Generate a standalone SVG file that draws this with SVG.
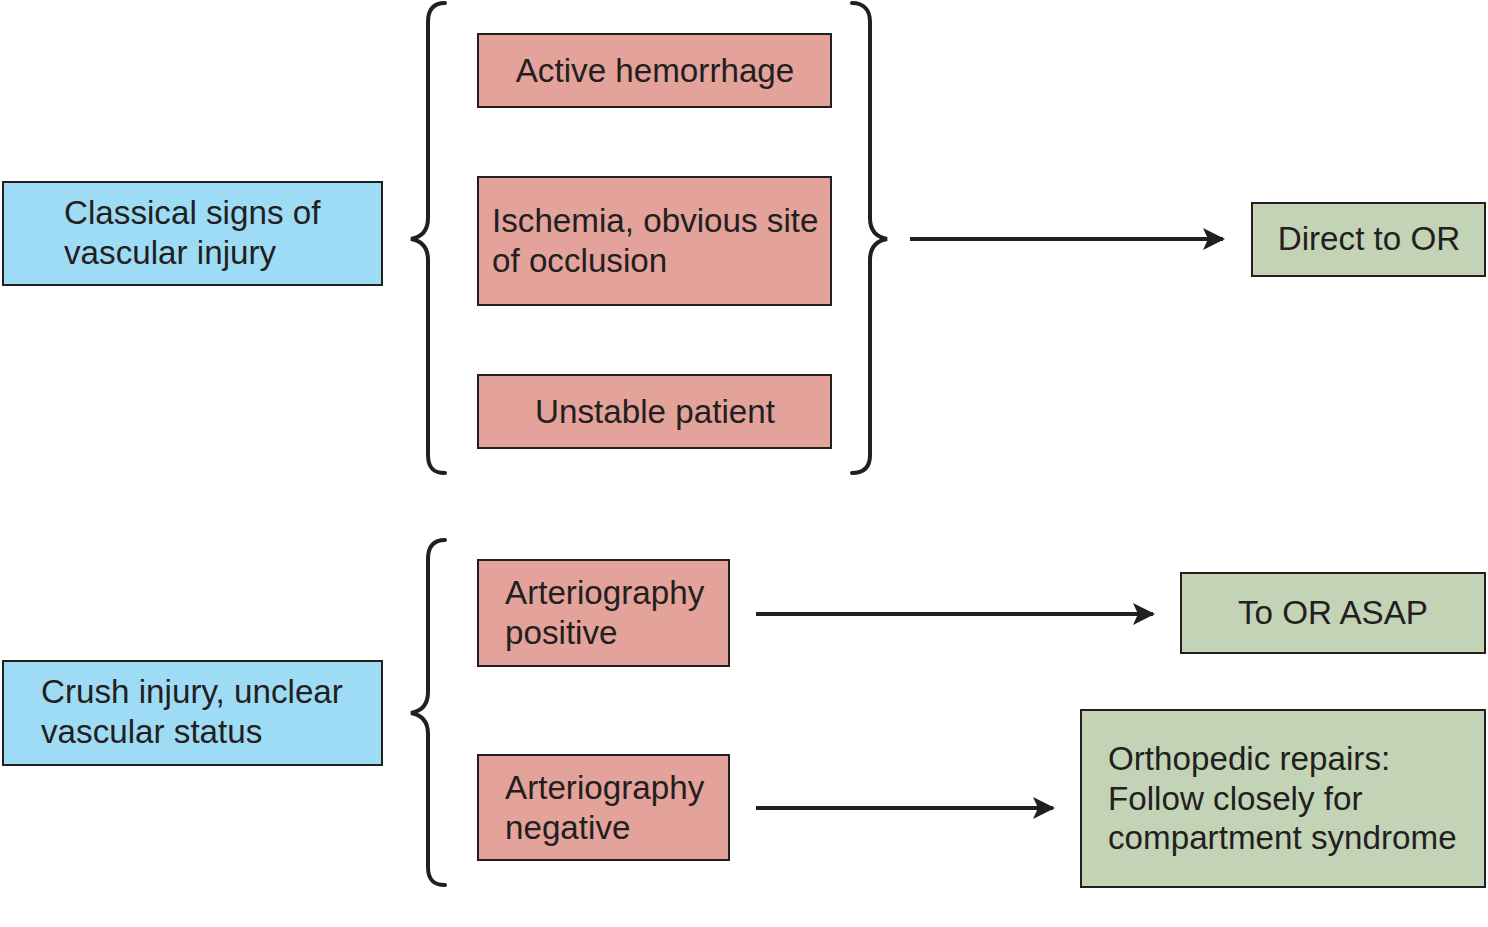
<svg xmlns="http://www.w3.org/2000/svg" width="1488" height="927" viewBox="0 0 1488 927">
<style>
.box{stroke:#231f20;stroke-width:2}
.blue{fill:#9edcf6}.pink{fill:#e3a29a}.green{fill:#c3d3b6}
text{font-family:"Liberation Sans",Arial,sans-serif;font-size:33.2px;fill:#231f20}
.c{text-anchor:middle}
.brace{fill:none;stroke:#231f20;stroke-width:4;stroke-linecap:round}
.arr{stroke:#231f20;stroke-width:4;fill:none}
</style>
<defs>
<marker id="ah" markerWidth="24" markerHeight="24" refX="20" refY="12" orient="auto" markerUnits="userSpaceOnUse" viewBox="0 0 24 24">
<path d="M0,1 L22,12 L0,23 L5,12 Z" fill="#231f20"/>
</marker>
</defs>
<rect width="1488" height="927" fill="#fff"/>
<g id="n-classical"><rect class="box blue" x="3" y="182" width="379" height="103"/><text x="64" y="224">Classical signs of</text><text x="64" y="264">vascular injury</text></g>
<g id="n-crush"><rect class="box blue" x="3" y="661" width="379" height="104"/><text x="41" y="703">Crush injury, unclear</text><text x="41" y="743">vascular status</text></g>
<g id="n-active"><rect class="box pink" x="478" y="34" width="353" height="73"/><text class="c" x="655" y="82">Active hemorrhage</text></g>
<g id="n-ischemia"><rect class="box pink" x="478" y="177" width="353" height="128"/><text x="492" y="232">Ischemia, obvious site</text><text x="492" y="272">of occlusion</text></g>
<g id="n-unstable"><rect class="box pink" x="478" y="375" width="353" height="73"/><text class="c" x="655" y="423">Unstable patient</text></g>
<g id="n-artpos"><rect class="box pink" x="478" y="560" width="251" height="106"/><text x="505" y="604">Arteriography</text><text x="505" y="644">positive</text></g>
<g id="n-artneg"><rect class="box pink" x="478" y="755" width="251" height="105"/><text x="505" y="799">Arteriography</text><text x="505" y="839">negative</text></g>
<g id="n-direct"><rect class="box green" x="1252" y="203" width="233" height="73"/><text class="c" x="1369" y="250">Direct to OR</text></g>
<g id="n-asap"><rect class="box green" x="1181" y="573" width="304" height="80"/><text class="c" x="1333" y="624">To OR ASAP</text></g>
<g id="n-ortho"><rect class="box green" x="1081" y="710" width="404" height="177"/><text x="1108" y="770">Orthopedic repairs:</text><text x="1108" y="810">Follow closely for</text><text x="1108" y="849">compartment syndrome</text></g>
<g id="connectors">
<path class="brace" d="M445,3 C433,3 428,10 428,22 L428,218 C428,230 422,237 411,239 C422,241 428,248 428,260 L428,455 C428,467 433,473 445,473"/>
<path class="brace" d="M852,3 C864,3 870,10 870,22 L870,218 C870,230 876,237 887,239 C876,241 870,248 870,260 L870,455 C870,467 864,473 852,473"/>
<path class="brace" d="M445,540 C433,540 428,547 428,559 L428,692 C428,704 422,711 411,713 C422,715 428,722 428,734 L428,867 C428,879 433,885 445,885"/>
<line class="arr" x1="910" y1="239" x2="1223" y2="239" marker-end="url(#ah)"/>
<line class="arr" x1="756" y1="614" x2="1153" y2="614" marker-end="url(#ah)"/>
<line class="arr" x1="756" y1="808" x2="1053" y2="808" marker-end="url(#ah)"/>
</g>
</svg>
